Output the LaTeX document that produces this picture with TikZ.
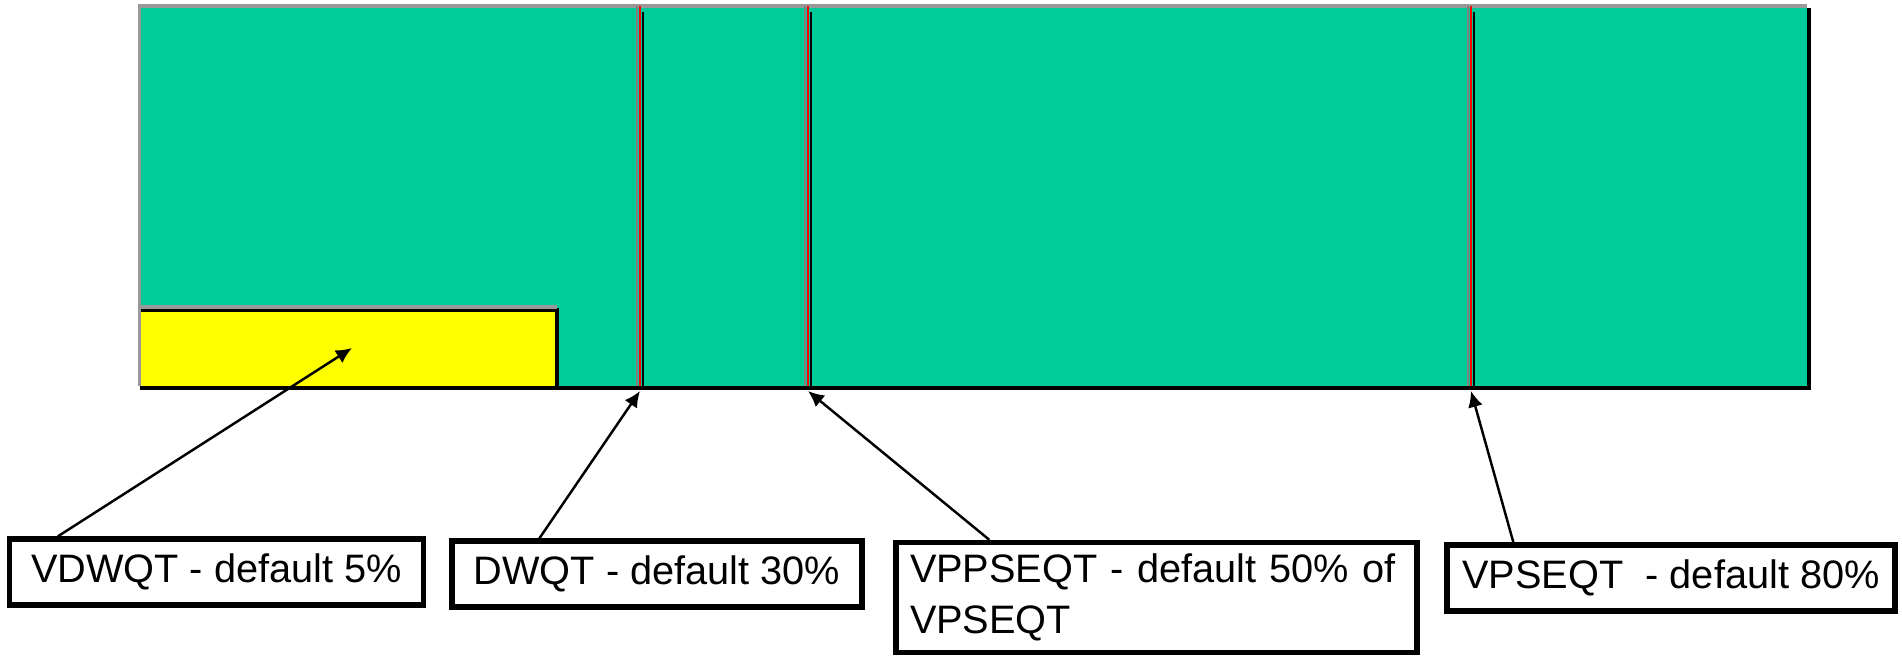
\documentclass[tikz,border=0pt]{standalone}
\usepackage{fontspec}
\setmainfont{Liberation Sans}
\usetikzlibrary{positioning}
\usetikzlibrary{arrows.meta}
\definecolor{poolgreen}{RGB}{0,204,153}
\definecolor{cacheyellow}{RGB}{255,255,0}
\tikzset{
    infobox/.style = {rectangle, line width=1.5pt, draw=black, fill=white, minimum height=0.66cm, inner sep=0pt, font=\fontsize{11.3}{14.5}\selectfont},
    edgen/.style = {-{Latex[length=1.6mm,width=1.5mm]}, line width=0.7pt},
    divider/.style = {line width=0.6pt},
    rimg/.style = {gray!80, line width=1pt},  % light rim
    rimb/.style = {black, line width=1.3pt}   % shadow rim
}
\begin{document}
\begin{tikzpicture}
\useasboundingbox (0,0) rectangle (19.02,6.55);
%
\fill[poolgreen] (1.395,2.69) rectangle (18.07,6.49);
\fill[cacheyellow] (1.395,2.69) rectangle (5.57,3.47);
\draw[rimb] (1.395,3.45) -- (5.57,3.45) -- (5.57,2.69);
\draw[rimg] (1.395,2.69) -- (1.395,6.49) -- (18.07,6.49);
\draw[rimg] (1.395,3.48) -- (5.57,3.48);
\draw[rimb] (1.395,2.67) -- (18.09,2.67) -- (18.09,6.47);
\coordinate (vdwqt) at (3.52,3.07);
%
\foreach \x/\n in {6.37/dwqt, 8.05/vppseqt, 14.68/vpseqt} {
  \draw[divider, gray] (\x,2.69) -- (\x,6.49);
  \draw[divider, red] (\x+0.03,2.69) -- (\x+0.03,6.49);
  \draw[divider, black] (\x+0.06,2.69) -- (\x+0.06,6.43);
  \coordinate (\n) at (\x+0.03,2.64);
}
%
\node[infobox, minimum width=4.14cm] at (2.165,0.83) (vdwqtbox) {VDWQT - default 5\%};
\node[infobox, minimum width=4.10cm] at (6.57,0.81) (dwqtbox) {DWQT - default 30\%};
\node[infobox, minimum width=5.21cm, minimum height=1.1cm, text width=4.93cm, align=left] at (11.565,0.575) (vppseqtbox) {VPPSEQT - default 50\% of\\VPSEQT};
\node[infobox, minimum width=4.48cm] at (16.71,0.77) (vpseqtbox) {VPSEQT\ \ - default 80\%};
%
\draw[edgen] ([xshift=5.1mm]vdwqtbox.north west) -- (vdwqt);
\draw[edgen] ([xshift=9.0mm]dwqtbox.north west) -- (dwqt);
\draw[edgen] ([xshift=9.6mm]vppseqtbox.north west) -- (vppseqt);
\draw[edgen] ([xshift=6.9mm]vpseqtbox.north west) -- (vpseqt);
\end{tikzpicture}
\end{document}
